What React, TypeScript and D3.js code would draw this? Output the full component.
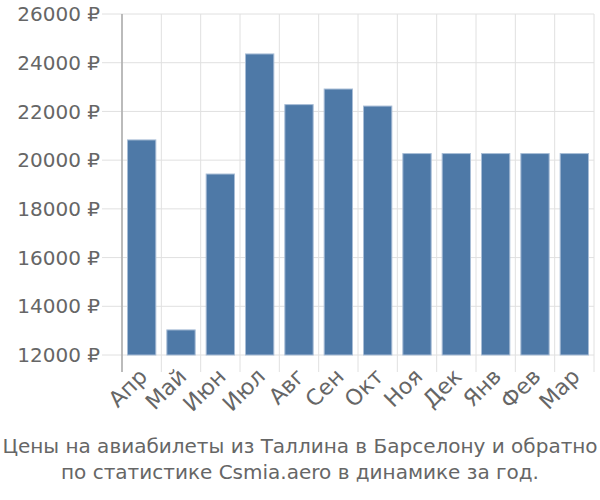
import React from "react";
import * as d3 from "d3";

const months = ["Апр", "Май", "Июн", "Июл", "Авг", "Сен", "Окт", "Ноя", "Дек", "Янв", "Фев", "Мар"];
const prices = [20830, 13030, 19430, 24360, 22280, 22920, 22220, 20270, 20270, 20270, 20270, 20270];
const yTicks = [12000, 14000, 16000, 18000, 20000, 22000, 24000, 26000];
const titleLines = [
  "Цены на авиабилеты из Таллина в Барселону и обратно",
  "по статистике Csmia.aero в динамике за год.",
];

export default function App() {
  const W = 600, H = 500;
  const left = 122, right = 594, top = 14, bottom = 355;
  const x = d3.scaleBand<string>().domain(months).range([left, right]).padding(0);
  const y = d3.scaleLinear().domain([12000, 26000]).range([bottom, top]);
  const bw = x.bandwidth();
  const font = "'DejaVu Sans', sans-serif";
  return (
    <div style={{ position: "absolute", left: 0, top: 0 }}>
      <svg width={W} height={H} style={{ display: "block" }}>
        <rect width={W} height={H} fill="#fff" />
        {yTicks.map((t) => (
          <line key={t} x1={left - 20} x2={right} y1={y(t)} y2={y(t)} stroke="#e0e0e0" strokeWidth={1} />
        ))}
        {months.map((m) => (
          <line key={m} x1={x(m)!} x2={x(m)!} y1={top} y2={bottom + 17} stroke="#e0e0e0" strokeWidth={1} />
        ))}
        <line x1={right} x2={right} y1={top} y2={bottom + 17} stroke="#e0e0e0" strokeWidth={1} />
        {months.map((m, i) => (
          <rect
            key={m}
            x={x(m)! + bw * 0.14}
            width={bw * 0.72}
            y={y(prices[i])}
            height={bottom - y(prices[i])}
            fill="#4e79a7"
            stroke="#a8bdd6"
            strokeWidth={1}
          />
        ))}
        <line x1={left} x2={left} y1={top} y2={bottom + 17} stroke="#aaaaaa" strokeWidth={1.5} />
        {yTicks.map((t) => (
          <text key={t} x={100} y={y(t)} dy="0.36em" textAnchor="end" fontFamily={font} fontSize={20} fill="#666">
            {`${t} ₽`}
          </text>
        ))}
        {months.map((m) => {
          const cx = x(m)! + bw / 2 - 4;
          const cy = 367;
          return (
            <text key={m} x={cx} y={cy} transform={`rotate(-45 ${cx} ${cy})`} textAnchor="end" dy="0.7em" fontFamily={font} fontSize={22} fill="#666">
              {m}
            </text>
          );
        })}
        {titleLines.map((l, i) => (
          <text key={i} x={W / 2} y={453 + i * 26} textAnchor="middle" fontFamily={font} fontSize={20} fill="#666">
            {l}
          </text>
        ))}
      </svg>
    </div>
  );
}
